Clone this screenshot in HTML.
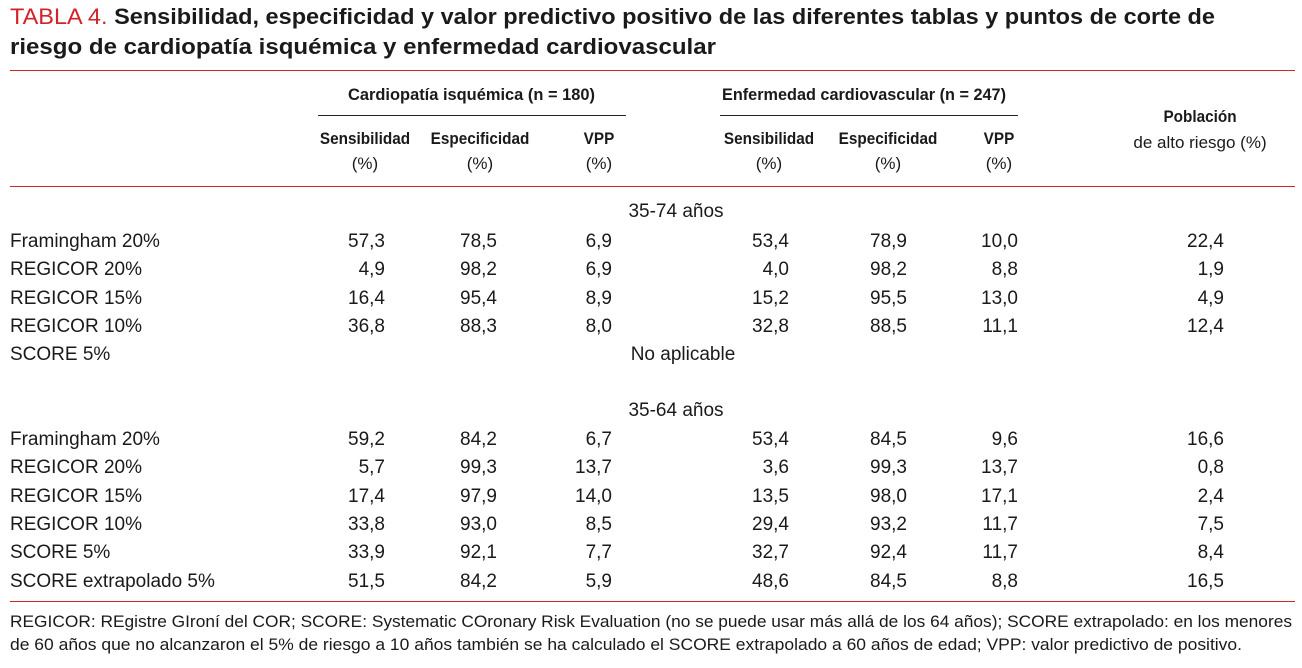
<!DOCTYPE html>
<html><head><meta charset="utf-8">
<style>
html,body{margin:0;padding:0;background:#fff;}
body{width:1302px;height:668px;position:relative;overflow:hidden;font-family:"Liberation Sans",sans-serif;color:#1a1a1a;}
.t{position:absolute;white-space:nowrap;line-height:1;}
.r{text-align:right;}
.c{text-align:center;}
.hl{position:absolute;height:1px;background:#d2232a;}
.bl{position:absolute;height:1px;background:#222;}
.b{font-weight:bold;}
.sq{transform:scaleX(0.9);transform-origin:50% 0;}
</style></head><body>
<div class="t" style="left:10px;top:6px;font-size:22px;" data-w="1205"><span style="color:#d2232a">TABLA 4.</span> <b>Sensibilidad, especificidad y valor predictivo positivo de las diferentes tablas y puntos de corte de</b></div>
<div class="t b" style="left:10px;top:36px;font-size:22px;" data-w="706">riesgo de cardiopatía isquémica y enfermedad cardiovascular</div>
<div class="hl" style="left:10px;top:70px;width:1285px;"></div>

<div class="t b" style="left:348px;top:86px;font-size:17px;" data-w="247">Cardiopatía isquémica (n = 180)</div>
<div class="bl" style="left:318px;top:115px;width:308px;"></div>
<div class="t b" style="left:722px;top:86px;font-size:17px;" data-w="284">Enfermedad cardiovascular (n = 247)</div>
<div class="bl" style="left:720px;top:115px;width:298px;"></div>

<div class="hl" style="left:10px;top:186px;width:1285px;"></div>
<div class="hl" style="left:10px;top:601px;width:1285px;"></div>
<div class="t" style="left:10px;top:613px;font-size:17px;" data-w="1282">REGICOR: REgistre GIroní del COR; SCORE: Systematic COronary Risk Evaluation (no se puede usar más allá de los 64 años); SCORE extrapolado: en los menores</div>
<div class="t" style="left:10px;top:636px;font-size:17px;" data-w="1232">de 60 años que no alcanzaron el 5% de riesgo a 10 años también se ha calculado el SCORE extrapolado a 60 años de edad; VPP: valor predictivo de positivo.</div>

<script>
const colHeads=[["Sensibilidad","(%)"],["Especificidad","(%)"],["VPP","(%)"],["Sensibilidad","(%)"],["Especificidad","(%)"],["VPP","(%)"]];
const colCenters=[365,480,599,769,888,999];
const colRights=[385,497,612,789,907,1018,1224];
const sec1Label="35-74 años", sec2Label="35-64 años";
const sec1Names=["Framingham 20%","REGICOR 20%","REGICOR 15%","REGICOR 10%","SCORE 5%"];
const sec1Vals=[["57,3","78,5","6,9","53,4","78,9","10,0","22,4"],["4,9","98,2","6,9","4,0","98,2","8,8","1,9"],["16,4","95,4","8,9","15,2","95,5","13,0","4,9"],["36,8","88,3","8,0","32,8","88,5","11,1","12,4"],null];
const sec2Names=["Framingham 20%","REGICOR 20%","REGICOR 15%","REGICOR 10%","SCORE 5%","SCORE extrapolado 5%"];
const sec2Vals=[["59,2","84,2","6,7","53,4","84,5","9,6","16,6"],["5,7","99,3","13,7","3,6","99,3","13,7","0,8"],["17,4","97,9","14,0","13,5","98,0","17,1","2,4"],["33,8","93,0","8,5","29,4","93,2","11,7","7,5"],["33,9","92,1","7,7","32,7","92,4","11,7","8,4"],["51,5","84,2","5,9","48,6","84,5","8,8","16,5"]];

function mk(txt,cls,style){const d=document.createElement('div');d.className='t '+cls;d.textContent=txt;d.setAttribute('style',style);document.body.appendChild(d);return d;}
colHeads.forEach((h,i)=>{
  let a=mk(h[0],'b c sq','left:'+(colCenters[i]-60)+'px;width:120px;top:130px;font-size:17px;');
  
  
  let b=mk(h[1],'c','left:'+(colCenters[i]-60)+'px;width:120px;top:155px;font-size:17px;');
  
  
});
let p1=mk('Población','b c sq','left:1100px;width:200px;top:108px;font-size:17px;');


let p2=mk('de alto riesgo (%)','c','left:1100px;width:200px;top:134px;font-size:17px;');



const rowH=28.3;
function section(label,labelY,names,vals,startY){
  let s=mk(label,'c','left:576px;width:200px;top:'+(labelY-9)+'px;font-size:19px;');
  
  
  names.forEach((n,i)=>{
    const y=startY+i*rowH-8;
    let d=mk(n,'','left:10px;top:'+y+'px;font-size:19px;');
    
    
    if(vals[i]){
      vals[i].forEach((v,j)=>{
        let c=mk(v,'r','left:'+(colRights[j]-100)+'px;width:100px;top:'+y+'px;font-size:19px;');
        
        
      });
    } else {
      let c=mk('No aplicable','c','left:583px;width:200px;top:'+y+'px;font-size:19px;');
      
      
    }
  });
}
section(sec1Label,211,sec1Names,sec1Vals,240);
section(sec2Label,410,sec2Names,sec2Vals,438);

document.querySelectorAll('[data-w]').forEach(e=>{
  const w=+e.getAttribute('data-w');const cw=e.getBoundingClientRect().width;
  if(cw>0){e.style.transformOrigin='0 0';e.style.transform='scaleX('+(w/cw)+')';}
});
</script>
</body></html>
